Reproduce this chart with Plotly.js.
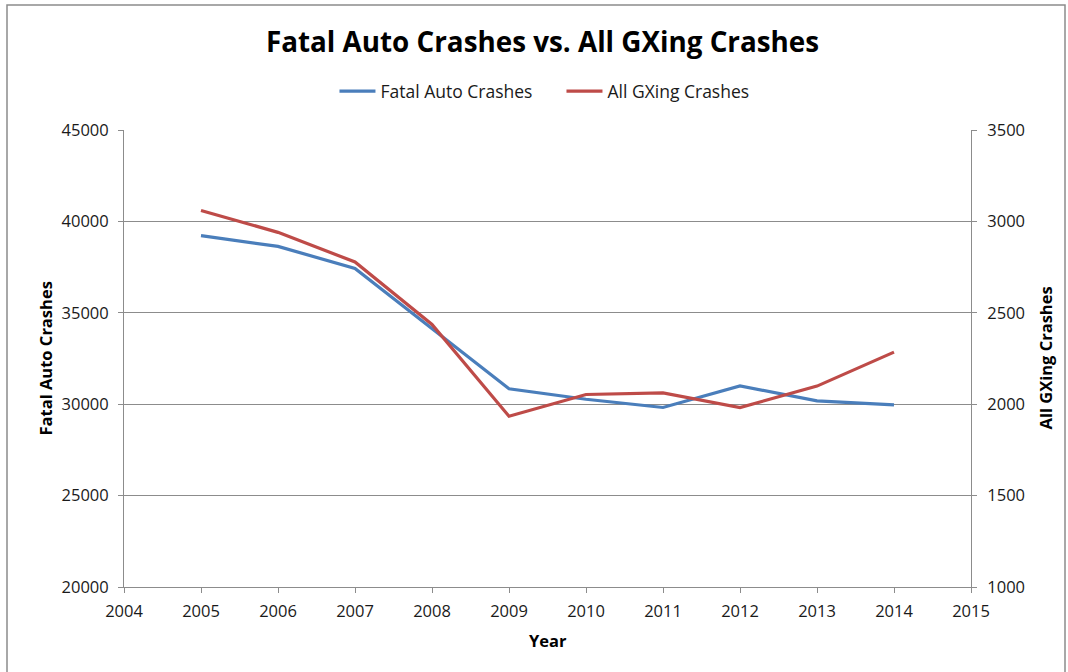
<!DOCTYPE html>
<html>
<head>
<meta charset="utf-8">
<script src="https://cdn.plot.ly/plotly-3.0.1.min.js"></script>
<style>
html,body{margin:0;padding:0;background:#fff;}
#chart{width:1068px;height:672px;}
</style>
</head>
<body>
<div id="chart"></div>
<script>
const years = [2005, 2006, 2007, 2008, 2009, 2010, 2011, 2012, 2013, 2014];
const fatalAutoCrashes = [39220, 38630, 37430, 34150, 30840, 30270, 29820, 31000, 30180, 29960];
const allGXingCrashes = [3060, 2940, 2778, 2436, 1934, 2053, 2062, 1982, 2099, 2285];
const xTicks = [2004, 2005, 2006, 2007, 2008, 2009, 2010, 2011, 2012, 2013, 2014, 2015];
const leftTicks = [20000, 25000, 30000, 35000, 40000, 45000];
const rightTicks = [1000, 1500, 2000, 2500, 3000, 3500];

const FONT = '"Open Sans", "Liberation Sans", sans-serif';
const GRID = '#8c8c8c';
const TICKFONT = {family: FONT, size: 16.5, color: '#1a1a1a'};

const traces = [
  {
    x: years, y: fatalAutoCrashes, name: 'Fatal Auto Crashes',
    type: 'scatter', mode: 'lines',
    line: {color: '#4A7EBB', width: 3.2},
    yaxis: 'y'
  },
  {
    x: years, y: allGXingCrashes, name: 'All GXing Crashes',
    type: 'scatter', mode: 'lines',
    line: {color: '#BE4B48', width: 3.2},
    yaxis: 'y2'
  }
];

const layout = {
  width: 1068, height: 672,
  margin: {l: 124, r: 97, t: 130, b: 85},
  paper_bgcolor: '#ffffff', plot_bgcolor: '#ffffff',
  font: {family: FONT, size: 15, color: '#1a1a1a'},
  title: {
    text: '<b>Fatal Auto Crashes vs. All GXing Crashes</b>',
    font: {family: FONT, size: 27.8, color: '#000'},
    x: 0.508, xanchor: 'center', y: 1 - 42/672, yanchor: 'middle'
  },
  showlegend: true,
  legend: {
    orientation: 'h', x: 0.5165, xanchor: 'center', y: 1.085, yanchor: 'middle',
    font: {family: FONT, size: 17.5, color: '#1a1a1a'},
    itemwidth: 36, traceorder: 'normal',
    entrywidth: 176, entrywidthmode: 'pixels'
  },
  xaxis: {
    range: [2004, 2015], tickvals: xTicks, ticktext: xTicks.map(String),
    showgrid: false, zeroline: false,
    showline: true, linecolor: GRID, linewidth: 1,
    ticks: 'outside', ticklen: 5, tickcolor: GRID,
    ticklabelstandoff: 4,
    tickfont: TICKFONT
  },
  yaxis: {
    range: [20000, 45000], tickvals: leftTicks, ticktext: leftTicks.map(String),
    showgrid: true, gridcolor: GRID, gridwidth: 1, zeroline: false,
    showline: true, linecolor: GRID, linewidth: 1,
    ticks: 'outside', ticklen: 5, tickcolor: GRID,
    ticklabelstandoff: 6,
    tickfont: TICKFONT
  },
  yaxis2: {
    range: [1000, 3500], tickvals: rightTicks, ticktext: rightTicks.map(String),
    overlaying: 'y', side: 'right',
    showgrid: false, zeroline: false,
    showline: true, linecolor: GRID, linewidth: 1,
    ticks: 'outside', ticklen: 5, tickcolor: GRID,
    ticklabelstandoff: 7,
    tickfont: TICKFONT
  },
  annotations: [
    {text: '<b>Fatal Auto Crashes</b>', textangle: -90, xref: 'paper', yref: 'paper',
     x: (45 - 124) / 847, y: 0.5, xanchor: 'center', yanchor: 'middle', showarrow: false,
     font: {family: FONT, size: 16.5, color: '#000'}},
    {text: '<b>All GXing Crashes</b>', textangle: -90, xref: 'paper', yref: 'paper',
     x: (1045 - 124) / 847, y: 0.5, xanchor: 'center', yanchor: 'middle', showarrow: false,
     font: {family: FONT, size: 16.5, color: '#000'}},
    {text: '<b>Year</b>', xref: 'paper', yref: 'paper',
     x: (548 - 124) / 847, y: (587 - 640) / 457, xanchor: 'center', yanchor: 'middle', showarrow: false,
     font: {family: FONT, size: 16.5, color: '#000'}}
  ],
  shapes: [
    {type: 'rect', xref: 'paper', yref: 'paper',
     x0: (7 - 124) / 847, x1: (1065 - 124) / 847,
     y0: (587 - 700) / 457, y1: (587 - 5) / 457,
     line: {color: '#8c8c8c', width: 1.5}, fillcolor: 'rgba(0,0,0,0)', layer: 'below'}
  ]
};

Plotly.newPlot('chart', traces, layout, {displayModeBar: false, staticPlot: true});
</script>
</body>
</html>
